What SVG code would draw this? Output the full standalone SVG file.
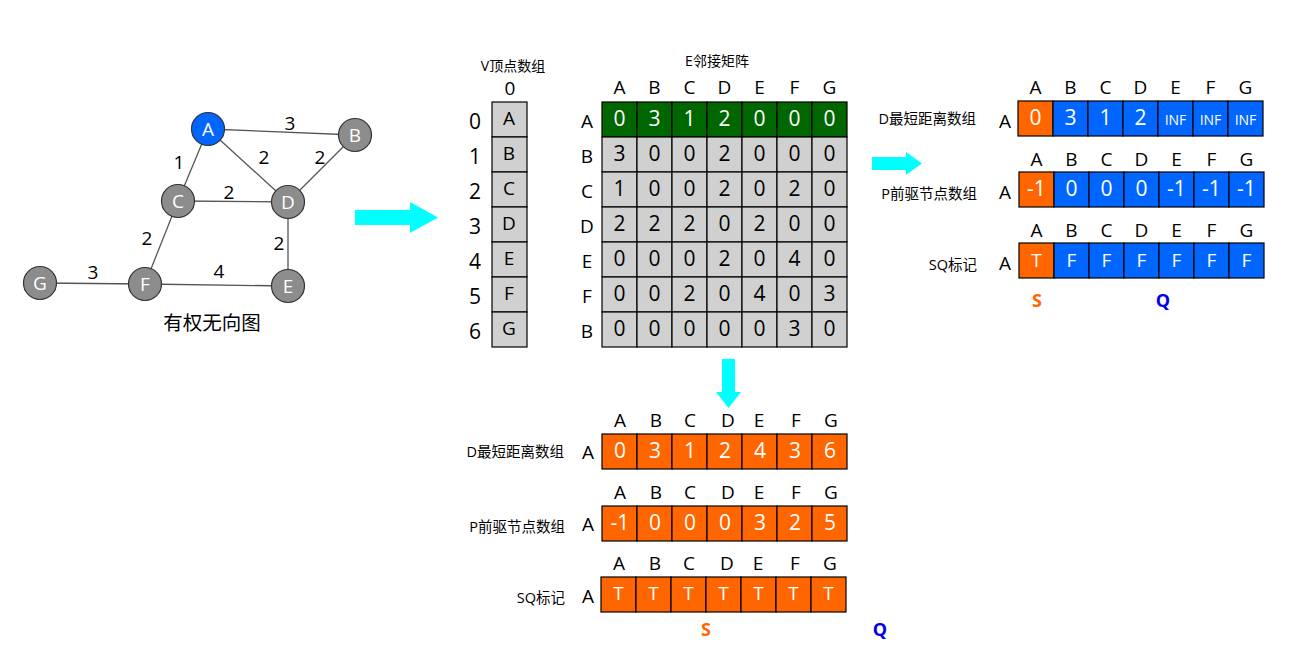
<svg xmlns="http://www.w3.org/2000/svg" width="1300" height="650" viewBox="0 0 1300 650">
<style>
text{font-family:"Open Sans","Noto Sans","Noto Sans CJK SC",sans-serif;text-anchor:middle;dominant-baseline:central;fill:#000}
.node circle{stroke:#333;stroke-width:1.2}
.node text{fill:#fff;font-size:19px}
.edge{stroke:#555;stroke-width:1.3;fill:none}
.w{font-size:19px}
.h{font-size:19px}
.lab{font-size:14.5px;text-anchor:end}
.v{font-size:21px}
.wt{fill:#fff}
.small{font-size:14px}
.gray{fill:#d0d0d0;stroke:#000;stroke-width:1.2}
.green{fill:#006600;stroke:#000;stroke-width:1.2}
.blue{fill:#0066ff;stroke:#000;stroke-width:1.2}
.org{fill:#ff6600;stroke:#000;stroke-width:1.2}
.cyan{fill:#00ffff}
.S{fill:#ff6600;font-weight:bold;font-size:18px}
.Q{fill:#0000ee;font-weight:bold;font-size:18px}
</style>

<g id="connectors">
<line class="edge" x1="208" y1="129" x2="355" y2="135"/>
<line class="edge" x1="208" y1="129" x2="178" y2="201"/>
<line class="edge" x1="208" y1="129" x2="288" y2="202"/>
<line class="edge" x1="355" y1="135" x2="288" y2="202"/>
<line class="edge" x1="178" y1="201" x2="288" y2="202"/>
<line class="edge" x1="178" y1="201" x2="145" y2="284"/>
<line class="edge" x1="288" y1="202" x2="288" y2="286"/>
<line class="edge" x1="145" y1="284" x2="288" y2="286"/>
<line class="edge" x1="40" y1="283" x2="145" y2="284"/>
<text class="w" x="290" y="123">3</text>
<text class="w" x="179" y="162">1</text>
<text class="w" x="264" y="157">2</text>
<text class="w" x="320" y="157">2</text>
<text class="w" x="229" y="192">2</text>
<text class="w" x="147" y="238">2</text>
<text class="w" x="279" y="243">2</text>
<text class="w" x="93" y="272">3</text>
<text class="w" x="219" y="271">4</text>
<polygon class="cyan" points="355,210 410,210 410,202 438,217.5 410,233 410,225 355,225"/>
<polygon class="cyan" points="872,157 906,157 906,152 922,163.5 906,175 906,170 872,170"/>
<polygon class="cyan" points="722,359 735,359 735,392 741,392 728.5,408 716,392 722,392"/>
</g>

<g id="node-A" class="node"><circle cx="208" cy="129" r="16.5" fill="#0066ff"/><text x="208" y="129">A</text></g>
<g id="node-B" class="node"><circle cx="355" cy="135" r="16.5" fill="#8c8c8c"/><text x="355" y="135">B</text></g>
<g id="node-C" class="node"><circle cx="178" cy="201" r="16.5" fill="#8c8c8c"/><text x="178" y="201">C</text></g>
<g id="node-D" class="node"><circle cx="288" cy="202" r="16.5" fill="#8c8c8c"/><text x="288" y="202">D</text></g>
<g id="node-E" class="node"><circle cx="288" cy="286" r="16.5" fill="#8c8c8c"/><text x="288" y="286">E</text></g>
<g id="node-F" class="node"><circle cx="145" cy="284" r="16.5" fill="#8c8c8c"/><text x="145" y="284">F</text></g>
<g id="node-G" class="node"><circle cx="40" cy="283" r="16.5" fill="#8c8c8c"/><text x="40" y="283">G</text></g>
<text x="212" y="322" style="font-size:19.5px">有权无向图</text>

<g id="vertex-array">
<text x="513" y="65" class="small">V顶点数组</text>
<text x="510" y="88" class="h">0</text>
<rect class="gray" x="492" y="102" width="35" height="35"/>
<rect class="gray" x="492" y="137" width="35" height="35"/>
<rect class="gray" x="492" y="172" width="35" height="35"/>
<rect class="gray" x="492" y="207" width="35" height="35"/>
<rect class="gray" x="492" y="242" width="35" height="35"/>
<rect class="gray" x="492" y="277" width="35" height="35"/>
<rect class="gray" x="492" y="312" width="35" height="35"/>
<g class="h">
<text x="509" y="118">A</text><text x="509" y="153">B</text><text x="509" y="188">C</text><text x="509" y="223">D</text><text x="509" y="258">E</text><text x="509" y="293">F</text><text x="509" y="328">G</text>
</g>
<g class="v">
<text x="475" y="121">0</text><text x="475" y="156">1</text><text x="475" y="191">2</text><text x="475" y="226">3</text><text x="475" y="261">4</text><text x="475" y="296">5</text><text x="475" y="331">6</text>
</g>
</g>

<g id="adjacency-matrix">
<text x="717" y="60" class="small">E邻接矩阵</text>
<g class="h">
<text x="619.5" y="87">A</text><text x="654.5" y="87">B</text><text x="689.5" y="87">C</text><text x="724.5" y="87">D</text><text x="759.5" y="87">E</text><text x="794.5" y="87">F</text><text x="829.5" y="87">G</text>
<text x="587" y="121">A</text><text x="587" y="156">B</text><text x="587" y="191">C</text><text x="587" y="226">D</text><text x="587" y="261">E</text><text x="587" y="296">F</text><text x="587" y="331">B</text>
</g>
<g>
<rect class="green" x="602" y="102" width="35" height="35"/><rect class="green" x="637" y="102" width="35" height="35"/><rect class="green" x="672" y="102" width="35" height="35"/><rect class="green" x="707" y="102" width="35" height="35"/><rect class="green" x="742" y="102" width="35" height="35"/><rect class="green" x="777" y="102" width="35" height="35"/><rect class="green" x="812" y="102" width="35" height="35"/>
</g>
<g>
<rect class="gray" x="602" y="137" width="35" height="35"/><rect class="gray" x="637" y="137" width="35" height="35"/><rect class="gray" x="672" y="137" width="35" height="35"/><rect class="gray" x="707" y="137" width="35" height="35"/><rect class="gray" x="742" y="137" width="35" height="35"/><rect class="gray" x="777" y="137" width="35" height="35"/><rect class="gray" x="812" y="137" width="35" height="35"/>
<rect class="gray" x="602" y="172" width="35" height="35"/><rect class="gray" x="637" y="172" width="35" height="35"/><rect class="gray" x="672" y="172" width="35" height="35"/><rect class="gray" x="707" y="172" width="35" height="35"/><rect class="gray" x="742" y="172" width="35" height="35"/><rect class="gray" x="777" y="172" width="35" height="35"/><rect class="gray" x="812" y="172" width="35" height="35"/>
<rect class="gray" x="602" y="207" width="35" height="35"/><rect class="gray" x="637" y="207" width="35" height="35"/><rect class="gray" x="672" y="207" width="35" height="35"/><rect class="gray" x="707" y="207" width="35" height="35"/><rect class="gray" x="742" y="207" width="35" height="35"/><rect class="gray" x="777" y="207" width="35" height="35"/><rect class="gray" x="812" y="207" width="35" height="35"/>
<rect class="gray" x="602" y="242" width="35" height="35"/><rect class="gray" x="637" y="242" width="35" height="35"/><rect class="gray" x="672" y="242" width="35" height="35"/><rect class="gray" x="707" y="242" width="35" height="35"/><rect class="gray" x="742" y="242" width="35" height="35"/><rect class="gray" x="777" y="242" width="35" height="35"/><rect class="gray" x="812" y="242" width="35" height="35"/>
<rect class="gray" x="602" y="277" width="35" height="35"/><rect class="gray" x="637" y="277" width="35" height="35"/><rect class="gray" x="672" y="277" width="35" height="35"/><rect class="gray" x="707" y="277" width="35" height="35"/><rect class="gray" x="742" y="277" width="35" height="35"/><rect class="gray" x="777" y="277" width="35" height="35"/><rect class="gray" x="812" y="277" width="35" height="35"/>
<rect class="gray" x="602" y="312" width="35" height="35"/><rect class="gray" x="637" y="312" width="35" height="35"/><rect class="gray" x="672" y="312" width="35" height="35"/><rect class="gray" x="707" y="312" width="35" height="35"/><rect class="gray" x="742" y="312" width="35" height="35"/><rect class="gray" x="777" y="312" width="35" height="35"/><rect class="gray" x="812" y="312" width="35" height="35"/>
</g>
<g class="v">
<text class="wt" x="619.5" y="118">0</text><text class="wt" x="654.5" y="118">3</text><text class="wt" x="689.5" y="118">1</text><text class="wt" x="724.5" y="118">2</text><text class="wt" x="759.5" y="118">0</text><text class="wt" x="794.5" y="118">0</text><text class="wt" x="829.5" y="118">0</text>
<text x="619.5" y="153">3</text><text x="654.5" y="153">0</text><text x="689.5" y="153">0</text><text x="724.5" y="153">2</text><text x="759.5" y="153">0</text><text x="794.5" y="153">0</text><text x="829.5" y="153">0</text>
<text x="619.5" y="188">1</text><text x="654.5" y="188">0</text><text x="689.5" y="188">0</text><text x="724.5" y="188">2</text><text x="759.5" y="188">0</text><text x="794.5" y="188">2</text><text x="829.5" y="188">0</text>
<text x="619.5" y="223">2</text><text x="654.5" y="223">2</text><text x="689.5" y="223">2</text><text x="724.5" y="223">0</text><text x="759.5" y="223">2</text><text x="794.5" y="223">0</text><text x="829.5" y="223">0</text>
<text x="619.5" y="258">0</text><text x="654.5" y="258">0</text><text x="689.5" y="258">0</text><text x="724.5" y="258">2</text><text x="759.5" y="258">0</text><text x="794.5" y="258">4</text><text x="829.5" y="258">0</text>
<text x="619.5" y="293">0</text><text x="654.5" y="293">0</text><text x="689.5" y="293">2</text><text x="724.5" y="293">0</text><text x="759.5" y="293">4</text><text x="794.5" y="293">0</text><text x="829.5" y="293">3</text>
<text x="619.5" y="328">0</text><text x="654.5" y="328">0</text><text x="689.5" y="328">0</text><text x="724.5" y="328">0</text><text x="759.5" y="328">0</text><text x="794.5" y="328">3</text><text x="829.5" y="328">0</text>
</g>
</g>

<g id="init-D">
<text class="lab" x="976" y="118">D最短距离数组</text>
<g class="h">
<text x="1005" y="121">A</text>
<text x="1035.5" y="87">A</text><text x="1070.5" y="87">B</text><text x="1105.5" y="87">C</text><text x="1140.5" y="87">D</text><text x="1175.5" y="87">E</text><text x="1210.5" y="87">F</text><text x="1245.5" y="87">G</text>
</g>
<rect class="org" x="1018" y="101" width="35" height="35"/><rect class="blue" x="1053" y="101" width="35" height="35"/><rect class="blue" x="1088" y="101" width="35" height="35"/><rect class="blue" x="1123" y="101" width="35" height="35"/><rect class="blue" x="1158" y="101" width="35" height="35"/><rect class="blue" x="1193" y="101" width="35" height="35"/><rect class="blue" x="1228" y="101" width="35" height="35"/>
<g class="v">
<text class="wt" x="1035.5" y="117">0</text><text class="wt" x="1070.5" y="117">3</text><text class="wt" x="1105.5" y="117">1</text><text class="wt" x="1140.5" y="117">2</text>
</g>
<g class="small">
<text class="wt" x="1175.5" y="119">INF</text><text class="wt" x="1210.5" y="119">INF</text><text class="wt" x="1245.5" y="119">INF</text>
</g>
</g>

<g id="init-P">
<text class="lab" x="977" y="193">P前驱节点数组</text>
<g class="h">
<text x="1005" y="192">A</text>
<text x="1036.5" y="159">A</text><text x="1071.5" y="159">B</text><text x="1106.5" y="159">C</text><text x="1141.5" y="159">D</text><text x="1176.5" y="159">E</text><text x="1211.5" y="159">F</text><text x="1246.5" y="159">G</text>
</g>
<rect class="org" x="1019" y="172" width="35" height="35"/><rect class="blue" x="1054" y="172" width="35" height="35"/><rect class="blue" x="1089" y="172" width="35" height="35"/><rect class="blue" x="1124" y="172" width="35" height="35"/><rect class="blue" x="1159" y="172" width="35" height="35"/><rect class="blue" x="1194" y="172" width="35" height="35"/><rect class="blue" x="1229" y="172" width="35" height="35"/>
<g class="v">
<text class="wt" x="1036.5" y="188">-1</text><text class="wt" x="1071.5" y="188">0</text><text class="wt" x="1106.5" y="188">0</text><text class="wt" x="1141.5" y="188">0</text><text class="wt" x="1176.5" y="188">-1</text><text class="wt" x="1211.5" y="188">-1</text><text class="wt" x="1246.5" y="188">-1</text>
</g>
</g>

<g id="init-SQ">
<text class="lab" x="977" y="264">SQ标记</text>
<g class="h">
<text x="1005" y="263">A</text>
<text x="1036.5" y="230">A</text><text x="1071.5" y="230">B</text><text x="1106.5" y="230">C</text><text x="1141.5" y="230">D</text><text x="1176.5" y="230">E</text><text x="1211.5" y="230">F</text><text x="1246.5" y="230">G</text>
</g>
<rect class="org" x="1019" y="243" width="35" height="35"/><rect class="blue" x="1054" y="243" width="35" height="35"/><rect class="blue" x="1089" y="243" width="35" height="35"/><rect class="blue" x="1124" y="243" width="35" height="35"/><rect class="blue" x="1159" y="243" width="35" height="35"/><rect class="blue" x="1194" y="243" width="35" height="35"/><rect class="blue" x="1229" y="243" width="35" height="35"/>
<g class="h">
<text class="wt" x="1036.5" y="260">T</text><text class="wt" x="1071.5" y="260">F</text><text class="wt" x="1106.5" y="260">F</text><text class="wt" x="1141.5" y="260">F</text><text class="wt" x="1176.5" y="260">F</text><text class="wt" x="1211.5" y="260">F</text><text class="wt" x="1246.5" y="260">F</text>
</g>
<text class="S" x="1037" y="300">S</text>
<text class="Q" x="1163" y="300">Q</text>
</g>

<g id="final-D">
<text class="lab" x="564" y="451">D最短距离数组</text>
<g class="h">
<text x="588" y="452">A</text>
<text x="620" y="420">A</text><text x="656" y="420">B</text><text x="690" y="420">C</text><text x="728" y="420">D</text><text x="759" y="420">E</text><text x="796" y="420">F</text><text x="831" y="420">G</text>
</g>
<rect class="org" x="602" y="434" width="35" height="35"/><rect class="org" x="637" y="434" width="35" height="35"/><rect class="org" x="672" y="434" width="35" height="35"/><rect class="org" x="707" y="434" width="35" height="35"/><rect class="org" x="742" y="434" width="35" height="35"/><rect class="org" x="777" y="434" width="35" height="35"/><rect class="org" x="812" y="434" width="35" height="35"/>
<g class="v">
<text class="wt" x="620" y="450">0</text><text class="wt" x="655" y="450">3</text><text class="wt" x="690" y="450">1</text><text class="wt" x="725" y="450">2</text><text class="wt" x="760" y="450">4</text><text class="wt" x="795" y="450">3</text><text class="wt" x="830" y="450">6</text>
</g>
</g>

<g id="final-P">
<text class="lab" x="565" y="526">P前驱节点数组</text>
<g class="h">
<text x="588" y="524">A</text>
<text x="620" y="492">A</text><text x="656" y="492">B</text><text x="690" y="492">C</text><text x="728" y="492">D</text><text x="759" y="492">E</text><text x="796" y="492">F</text><text x="831" y="492">G</text>
</g>
<rect class="org" x="602" y="506" width="35" height="35"/><rect class="org" x="637" y="506" width="35" height="35"/><rect class="org" x="672" y="506" width="35" height="35"/><rect class="org" x="707" y="506" width="35" height="35"/><rect class="org" x="742" y="506" width="35" height="35"/><rect class="org" x="777" y="506" width="35" height="35"/><rect class="org" x="812" y="506" width="35" height="35"/>
<g class="v">
<text class="wt" x="620" y="522">-1</text><text class="wt" x="655" y="522">0</text><text class="wt" x="690" y="522">0</text><text class="wt" x="725" y="522">0</text><text class="wt" x="760" y="522">3</text><text class="wt" x="795" y="522">2</text><text class="wt" x="830" y="522">5</text>
</g>
</g>

<g id="final-SQ">
<text class="lab" x="565" y="597">SQ标记</text>
<g class="h">
<text x="588" y="596">A</text>
<text x="619" y="563">A</text><text x="655" y="563">B</text><text x="689" y="563">C</text><text x="727" y="563">D</text><text x="758" y="563">E</text><text x="795" y="563">F</text><text x="830" y="563">G</text>
</g>
<rect class="org" x="601" y="577" width="35" height="35"/><rect class="org" x="636" y="577" width="35" height="35"/><rect class="org" x="671" y="577" width="35" height="35"/><rect class="org" x="706" y="577" width="35" height="35"/><rect class="org" x="741" y="577" width="35" height="35"/><rect class="org" x="776" y="577" width="35" height="35"/><rect class="org" x="811" y="577" width="35" height="35"/>
<g class="h">
<text class="wt" x="618.5" y="593">T</text><text class="wt" x="653.5" y="593">T</text><text class="wt" x="688.5" y="593">T</text><text class="wt" x="723.5" y="593">T</text><text class="wt" x="758.5" y="593">T</text><text class="wt" x="793.5" y="593">T</text><text class="wt" x="828.5" y="593">T</text>
</g>
<text class="S" x="706" y="629">S</text>
<text class="Q" x="880" y="629">Q</text>
</g>
</svg>
